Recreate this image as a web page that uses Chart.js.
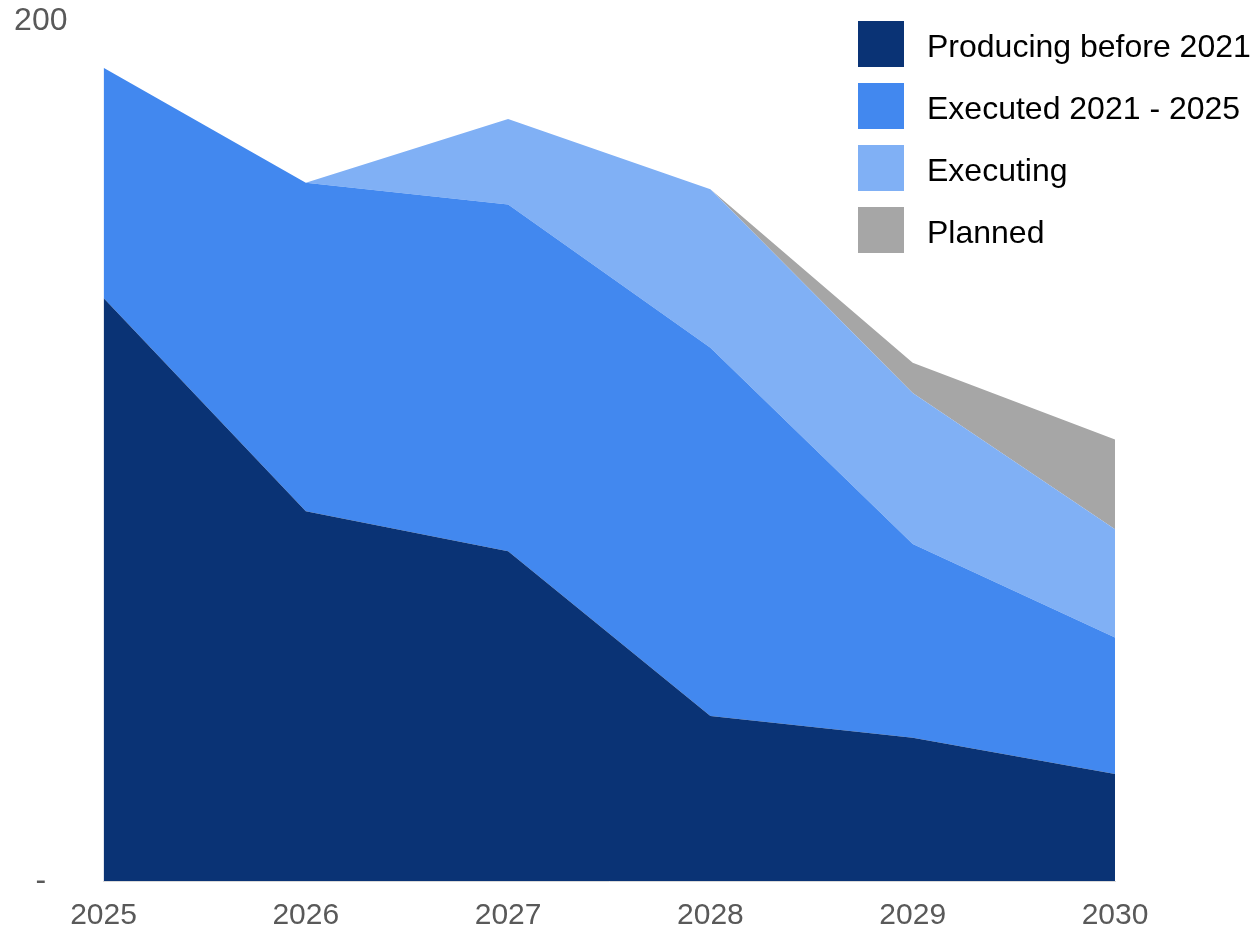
<!DOCTYPE html>
<html>
<head>
<meta charset="utf-8">
<script src="https://cdn.jsdelivr.net/npm/chart.js@4"></script>
<style>
    html, body { margin: 0; padding: 0; background: #fff; }
    #wrap { position: relative; width: 1258px; height: 931px; }
    #legend { position: absolute; left: 858px; top: 21px; font-family: "Liberation Sans", Arial, sans-serif; font-size: 32px; color: #000; }
    .item { display: flex; align-items: center; height: 46px; margin-bottom: 16px; }
    .box { width: 46px; height: 46px; margin-right: 23px; }
    .item span { position: relative; top: 2px; }
</style>
</head>
<body>
<div id="wrap">
    <canvas id="chart" width="1258" height="931"></canvas>
    <div id="legend"></div>
</div>
<script>
let years = ['2025', '2026', '2027', '2028', '2029', '2030'];
let seriesNames = ['Producing before 2021', 'Executed 2021 - 2025', 'Executing', 'Planned'];
let producing = [135.6, 86.0, 76.7, 38.4, 33.3, 24.9];
let executed = [53.5, 76.4, 80.6, 85.6, 45.1, 31.7];
let executing = [0, 0, 19.9, 36.9, 35.1, 25.2];
let planned = [0, 0, 0, 0, 7.0, 20.9];
let yTicks = [0, 200];

let colors = ['#0a3375', '#4288ef', '#80b0f5', '#a6a6a6'];
let values = [producing, executed, executing, planned];

let chartArea = document.getElementById('chart').getContext('2d');

let datasets = values.map((v, i) => {
    return {
        label: seriesNames[i],
        data: v,
        backgroundColor: colors[i],
        borderColor: colors[i],
        borderWidth: 0,
        pointRadius: 0,
        tension: 0,
        fill: i === 0 ? 'origin' : '-1'
    };
});

// legend drawn as html next to the plot
let legend = document.getElementById('legend');
seriesNames.forEach((name, i) => {
    legend.innerHTML += `<div class="item"><div class="box" style="background:${colors[i]}"></div><span>${name}</span></div>`;
});

let myChart = new Chart(chartArea, {
    type: 'line',
    data: {
        labels: years,
        datasets: datasets
    },
    options: {
        responsive: false,
        animation: false,
        layout: {
            padding: { left: 0, right: 143, top: 21, bottom: 0 }
        },
        plugins: {
            legend: { display: false },
            tooltip: { enabled: false }
        },
        scales: {
            x: {
                grid: { display: false, drawTicks: false },
                border: { display: true, color: '#d9d9d9', width: 1 },
                ticks: {
                    color: '#595959',
                    padding: 17,
                    maxRotation: 0,
                    font: { family: 'Liberation Sans, Arial, sans-serif', size: 30 }
                },
                afterFit: (scale) => { scale.height = 50; }
            },
            y: {
                stacked: true,
                min: 0,
                max: 200,
                grid: { display: false, drawTicks: false },
                border: { display: false },
                afterBuildTicks: (scale) => {
                    scale.ticks = yTicks.map((v) => ({ value: v }));
                },
                ticks: {
                    color: '#595959',
                    padding: 36,
                    crossAlign: 'center',
                    font: { family: 'Liberation Sans, Arial, sans-serif', size: 32 },
                    callback: (v) => v === 0 ? '-' : v
                },
                afterFit: (scale) => {
                    // keep the label padding from pushing the plot area in
                    scale.width = 103.5;
                    scale.paddingTop = 0;
                    scale.paddingBottom = 0;
                }
            }
        }
    }
});
</script>
</body>
</html>
